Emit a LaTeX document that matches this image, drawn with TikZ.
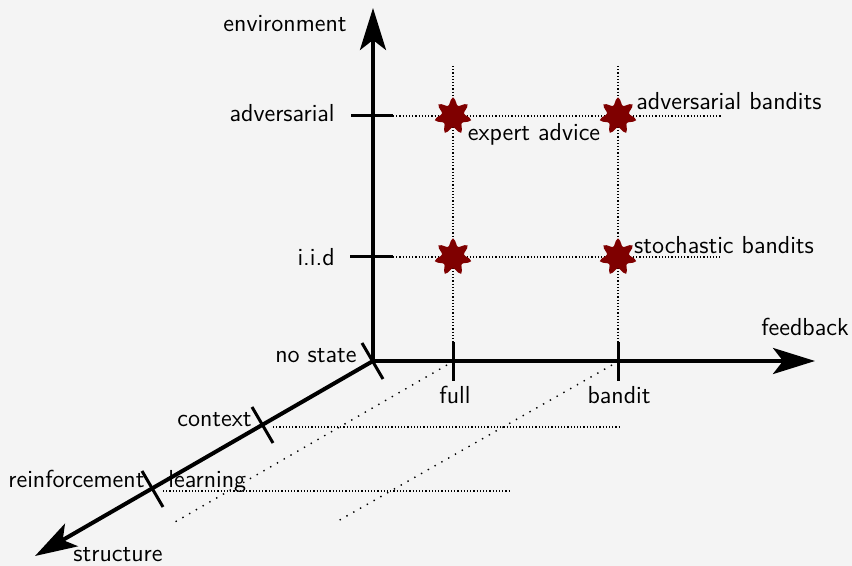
\documentclass[tikz,border=0pt]{standalone}
\usetikzlibrary{arrows.meta,shapes.geometric}
\definecolor{bg}{HTML}{F4F4F4}
\definecolor{starred}{HTML}{7F0000}
\begin{document}
\begin{tikzpicture}[x=0.5pt,y=-0.5pt,
  font=\sffamily\fontsize{12.3}{14}\selectfont,
  axis/.style={line width=2pt,-{Stealth[length=21pt,width=13pt,inset=5pt]}},
  tick/.style={line width=1.5pt},
  grid/.style={line width=0.6pt,dash pattern=on 0.6pt off 1pt},
  sparse/.style={line width=0.7pt,dash pattern=on 0.7pt off 3.2pt},
  lbl/.style={inner sep=1pt},
  mark star/.style={star,star points=7,star point ratio=2.1,minimum size=18.5pt,inner sep=0pt,
    fill=starred,draw=starred,line width=1.2pt,rounded corners=1.5pt}]
\fill[bg] (0,0) rectangle (852,566);
\useasboundingbox (0,0) rectangle (852,566);
% axes points
\coordinate (O) at (373,361);
\coordinate (Etip) at (373,8);
\coordinate (Ftip) at (815,361);
\coordinate (Stip) at (35,556);
% ticks on environment axis
\coordinate (advL) at (351,116); \coordinate (advR) at (393,116);
\coordinate (iidL) at (350,257); \coordinate (iidR) at (393,257);
% ticks on feedback axis
\coordinate (fullT) at (453,342); \coordinate (fullB) at (453,381); \coordinate (full) at (453,361);
\coordinate (banT) at (618,342); \coordinate (banB) at (618,381); \coordinate (ban) at (618,361);
% ticks on structure axis
\coordinate (nsA) at (362,343); \coordinate (nsB) at (383,379);
\coordinate (ctA) at (252,407); \coordinate (ctB) at (273,443); \coordinate (ct) at (262,425);
\coordinate (rlA) at (142,471); \coordinate (rlB) at (163,507); \coordinate (rl) at (152,489);
% grid end points
\coordinate (fullTop) at (453,66); \coordinate (banTop) at (618,66);
\coordinate (advEnd) at (722,116); \coordinate (iidEnd) at (720,257);
\coordinate (ctEnd) at (620,427); \coordinate (rlEnd) at (510,491);
\coordinate (fullD) at (175,522); \coordinate (banD) at (338,521);
% grid lines
\draw[grid] (fullTop) -- (full);
\draw[grid] (banTop) -- (ban);
\draw[grid] (advR) -- (advEnd);
\draw[grid] (iidR) -- (iidEnd);
\draw[grid] (ctB |- 0,427) -- (ctEnd);
\draw[grid] (rlB |- 0,491) -- (rlEnd);
\draw[sparse] (full) ++(-6,4) -- (fullD);
\draw[sparse] (ban) ++(-6,4) -- (banD);
% axes
\draw[axis] (O) -- (Etip);
\draw[axis] (O) -- (Ftip);
\draw[axis] (O) -- (Stip);
% ticks
\draw[tick] (advL) -- (advR);
\draw[tick] (iidL) -- (iidR);
\draw[tick] (fullT) -- (fullB);
\draw[tick] (banT) -- (banB);
\draw[tick] (nsA) -- (nsB);
\draw[tick] (ctA) -- (ctB);
\draw[tick] (rlA) -- (rlB);
% stars
\node[mark star] (s1) at (453,116) {};
\node[mark star] (s2) at (618,116) {};
\node[mark star] (s3) at (453,257) {};
\node[mark star] (s4) at (618,257) {};
% labels
\node[lbl,anchor=east] (lenv) at (349,24) {environment};
\node[lbl,anchor=east] (ladv) at (337,113) {adversarial};
\node[lbl,anchor=east] (liid) at (337,257) {i.i.d};
\node[lbl,anchor=east] (lns) at (359,356) {no state};
\node[lbl] (lfb) at (805,327) {feedback};
\node[lbl] (lfull) at (455,395) {full};
\node[lbl] (lban) at (619,395) {bandit};
\node[lbl,anchor=east] (lct) at (254,420) {context};
\node[lbl,anchor=west] (lrl) at (6,481) {reinforcement\hspace{12pt}learning};
\node[lbl] (lstr) at (118,555) {structure};
\node[lbl] (lexp) at (534,134) {expert advice};
\node[lbl] (ladvb) at (729,101) {adversarial bandits};
\node[lbl] (lsto) at (724,245) {stochastic bandits};
\end{tikzpicture}
\end{document}
